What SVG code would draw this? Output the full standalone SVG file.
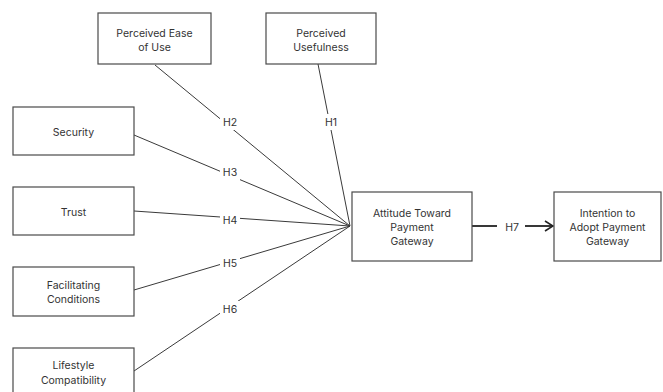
<svg xmlns="http://www.w3.org/2000/svg" width="663" height="392" viewBox="0 0 663 392">
<style>
.box{fill:#fff;stroke:#4a4a4a;stroke-width:1.2}
.t{font-family:Inter,"Liberation Sans",sans-serif;font-size:10.5px;fill:#333;text-anchor:middle;dominant-baseline:central}
.c{stroke:#3a3a3a;stroke-width:1;fill:none}
.lb{fill:#fff}
</style>
<defs>
<marker id="arr" viewBox="0 0 10 12" refX="9" refY="6" markerWidth="10" markerHeight="12" markerUnits="userSpaceOnUse" orient="auto">
<path d="M1,1 L9,6 L1,11" fill="none" stroke="#222" stroke-width="1.6"/>
</marker>
</defs>
<rect width="663" height="392" fill="#fff"/>
<g id="connectors">
<line class="c" x1="155" y1="65" x2="350" y2="226"/>
<line class="c" x1="318" y1="64" x2="350" y2="226"/>
<line class="c" x1="134" y1="135" x2="350" y2="226"/>
<line class="c" x1="134" y1="211" x2="350" y2="226"/>
<line class="c" x1="134" y1="290" x2="350" y2="226"/>
<line class="c" x1="134" y1="371" x2="350" y2="226"/>
<line x1="472" y1="226" x2="497" y2="226" stroke="#222" stroke-width="1.8"/>
<line x1="525" y1="226" x2="553" y2="226" stroke="#222" stroke-width="1.8" marker-end="url(#arr)"/>
<rect class="lb" x="220" y="114" width="20" height="16"/>
<text class="t" x="230" y="122">H2</text>
<rect class="lb" x="322" y="114" width="18" height="16"/>
<text class="t" x="331" y="122">H1</text>
<rect class="lb" x="220" y="164" width="20" height="16"/>
<text class="t" x="230" y="172">H3</text>
<rect class="lb" x="220" y="212" width="20" height="16"/>
<text class="t" x="230" y="220">H4</text>
<rect class="lb" x="220" y="255" width="20" height="16"/>
<text class="t" x="230" y="263">H5</text>
<rect class="lb" x="220" y="301" width="20" height="16"/>
<text class="t" x="230" y="309">H6</text>
<text class="t" x="512" y="227">H7</text>
</g>
<g id="peou">
<rect class="box" x="98" y="13" width="113" height="51"/>
<text class="t" x="154.5" y="33">Perceived Ease</text>
<text class="t" x="154.5" y="47">of Use</text>
</g>
<g id="pu">
<rect class="box" x="266" y="13" width="110" height="51"/>
<text class="t" x="321" y="33">Perceived</text>
<text class="t" x="321" y="47">Usefulness</text>
</g>
<g id="security">
<rect class="box" x="13" y="107" width="121" height="48"/>
<text class="t" x="73.5" y="132">Security</text>
</g>
<g id="trust">
<rect class="box" x="13" y="187" width="121" height="48"/>
<text class="t" x="73.5" y="212">Trust</text>
</g>
<g id="facilitating">
<rect class="box" x="13" y="267" width="121" height="49"/>
<text class="t" x="73.5" y="285">Facilitating</text>
<text class="t" x="73.5" y="299">Conditions</text>
</g>
<g id="lifestyle">
<rect class="box" x="13" y="348" width="121" height="50"/>
<text class="t" x="73.5" y="365">Lifestyle</text>
<text class="t" x="73.5" y="380">Compatibility</text>
</g>
<g id="attitude">
<rect class="box" x="352" y="192" width="120" height="69"/>
<text class="t" x="412" y="213">Attitude Toward</text>
<text class="t" x="412" y="227">Payment</text>
<text class="t" x="412" y="241">Gateway</text>
</g>
<g id="intention">
<rect class="box" x="554" y="192" width="107" height="69"/>
<text class="t" x="607.5" y="213">Intention to</text>
<text class="t" x="607.5" y="227">Adopt Payment</text>
<text class="t" x="607.5" y="241">Gateway</text>
</g>
</svg>
